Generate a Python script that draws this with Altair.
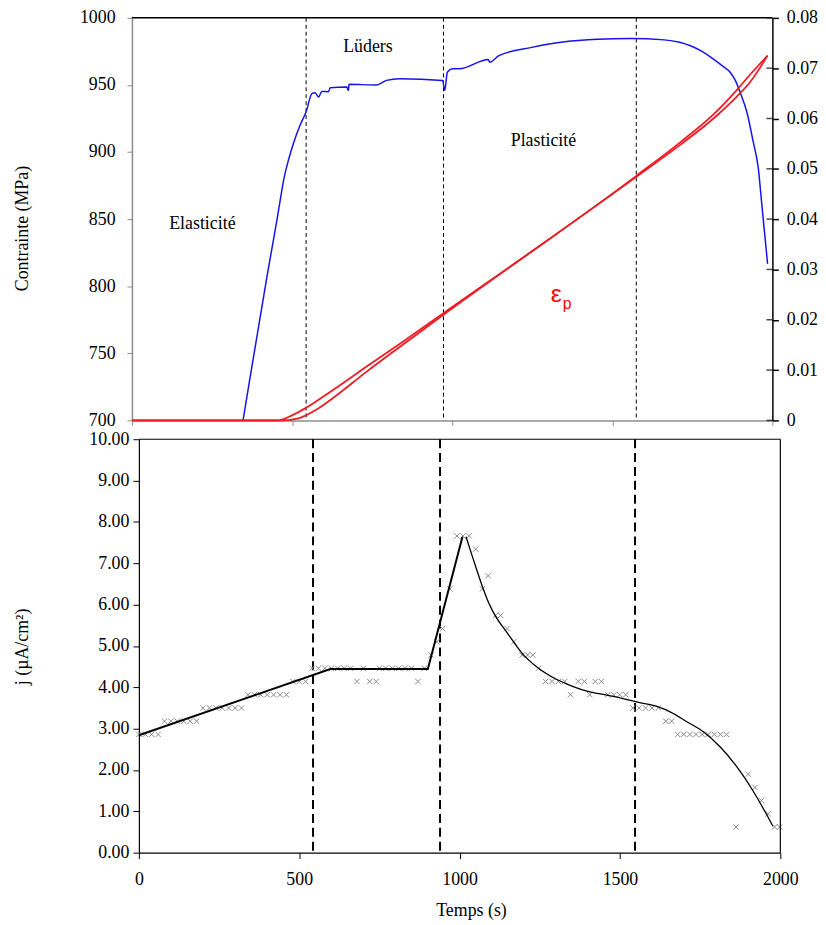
import altair as alt
import pandas as pd

# ---------------- top panel: stress (left axis) ----------------
blue_t = [347, 366, 392, 423, 454, 465, 475, 490, 506, 525, 544, 562, 572, 583, 593, 614, 619,
          671, 676, 678, 764, 795, 836, 970, 977, 985, 1001, 1022, 1113, 1117, 1146, 1249,
          1352, 1455, 1558, 1662, 1710, 1744, 1780, 1816, 1845, 1868, 1885, 1899, 1920, 1940,
          1956, 1966, 1976, 1985]
blue_s = [700, 727.8, 764.8, 809, 851, 867, 880.6, 895, 907.7, 920, 930, 943.5, 944.2, 941,
          945.2, 945, 948, 948.4, 945.9, 950.5, 950, 953.4, 954.6, 953.4, 946, 959.5, 962, 962,
          969, 967, 971.8, 978, 982.2, 984, 984.6, 983.6, 981.8, 979.2, 975, 969.3, 964,
          959.5, 953, 944.7, 930, 907.7, 888, 863.4, 838.8, 816.6]

# plastic strain (right axis), two close red curves
redA_t = [0, 454, 500, 544, 629, 733, 836, 973, 1575, 1713, 1816, 1888, 1930, 1985]
redA_e = [0, 0, 0.0010, 0.0025, 0.0061, 0.0107, 0.0152, 0.0213, 0.0486, 0.0553, 0.0608,
          0.0656, 0.0687, 0.0725]
redB_t = [0, 470, 520, 578, 629, 733, 836, 973, 1575, 1713, 1816, 1888, 1930, 1985]
redB_e = [0, 0, 0.0004, 0.0022, 0.0045, 0.0097, 0.0146, 0.0210, 0.0484, 0.0548, 0.0600,
          0.0643, 0.0672, 0.0725]

top_phase_t = [544, 973, 1575]
stress_ticks = [700, 750, 800, 850, 900, 950, 1000]
strain_ticks = [0, 0.01, 0.02, 0.03, 0.04, 0.05, 0.06, 0.07, 0.08]
time_ticks = [0, 500, 1000, 1500, 2000]

phase_labels = ["Elasticité", "Lüders", "Plasticité"]
phase_label_t = [220, 737, 1285]
phase_label_s = [846, 978, 908]

# ---------------- bottom panel: current density ----------------
pts_t = [0, 20, 40, 60,
         80, 100, 120, 140, 160, 180,
         200, 220, 240, 260, 280, 300, 320,
         340, 360, 380, 400, 420, 440, 460,
         480, 500, 520,
         540, 560, 580, 600, 620, 640, 660,
         680, 700, 720, 740, 750, 770, 790, 810, 830, 850, 870, 890,
         911, 929, 947, 970, 992, 1011, 1030, 1050, 1071, 1089, 1112, 1128, 1148, 1169,
         1195, 1212, 1228, 1246, 1268, 1288, 1308, 1328, 1346, 1370, 1389, 1406, 1423, 1442,
         1462, 1481, 1499, 1518, 1540, 1560, 1580, 1600, 1620, 1643, 1661,
         1680, 1699, 1718, 1737, 1756, 1775, 1794, 1813, 1832,
         1862, 1900, 1921, 1941, 1962, 1982, 1998]
pts_j = [2.86, 2.86, 2.86, 2.86,
         3.18, 3.18, 3.18, 3.18, 3.18, 3.18,
         3.50, 3.50, 3.50, 3.50, 3.50, 3.50, 3.50,
         3.82, 3.82, 3.82, 3.82, 3.82, 3.82, 3.82,
         4.14, 4.14, 4.14,
         4.46, 4.46, 4.46, 4.46, 4.46, 4.46, 4.46,
         4.14, 4.46, 4.14, 4.14, 4.46, 4.46, 4.46, 4.46, 4.46, 4.46, 4.14, 4.46,
         4.78, 5.10, 5.42, 6.38, 7.66, 7.66, 7.66, 7.34, 6.38, 6.70, 5.74, 5.74, 5.42, 5.10,
         4.78, 4.78, 4.78, 4.46, 4.14, 4.14, 4.14, 4.14, 3.82, 4.14, 4.14, 3.82, 4.14, 4.14,
         3.82, 3.82, 3.82, 3.82, 3.50, 3.50, 3.50, 3.50, 3.50, 3.18, 3.18,
         2.86, 2.86, 2.86, 2.86, 2.86, 2.86, 2.86, 2.86, 2.86,
         0.62, 1.90, 1.58, 1.26, 0.94, 0.62, 0.62]

fit1_t = [0, 597, 901, 1009]
fit1_j = [2.84, 4.44, 4.44, 7.64]
fit2_t = [1020, 1040, 1071, 1092, 1112, 1150, 1195, 1246, 1300, 1350, 1400, 1452, 1503,
          1555, 1617, 1658, 1710, 1761, 1812, 1864, 1916, 1977]
fit2_j = [7.64, 7.16, 6.44, 6.02, 5.72, 5.30, 4.82, 4.46, 4.20, 4.03, 3.90, 3.82, 3.74,
          3.64, 3.53, 3.40, 3.16, 2.92, 2.56, 2.08, 1.48, 0.64]

bottom_phase_t = [543, 939, 1547]
j_ticks = [0, 1, 2, 3, 4, 5, 6, 7, 8, 9, 10]

SERIF = "Times New Roman, Liberation Serif, DejaVu Serif, serif"
SANS = "Arial, Liberation Sans, DejaVu Sans, sans-serif"
GRAY = "#8c8c8c"

# ---------------- build top chart ----------------
blue_df = pd.DataFrame({"t": blue_t, "s": blue_s})
red_df = pd.concat([
    pd.DataFrame({"t": redA_t, "e": redA_e, "c": "A"}),
    pd.DataFrame({"t": redB_t, "e": redB_e, "c": "B"}),
])
top_rules_df = pd.DataFrame({"t": top_phase_t})
labels_df = pd.DataFrame({"t": phase_label_t, "s": phase_label_s, "label": phase_labels})
eps_df = pd.DataFrame({"t": [1325], "s": [794], "label": ["ε"]})
sub_df = pd.DataFrame({"t": [1359], "s": [787], "label": ["p"]})
border_df = pd.DataFrame({"s": [1000]})
rticks_df = pd.DataFrame({"t": [2000] * len(strain_ticks), "e": strain_ticks})

x_top = alt.X("t:Q", scale=alt.Scale(domain=[0, 2000], nice=False, zero=False),
              axis=alt.Axis(values=time_ticks, labels=False, title=None, domainColor=GRAY,
                            tickColor=GRAY, tickSize=5, domainWidth=1.5, tickWidth=1))
y_left = alt.Y("s:Q", scale=alt.Scale(domain=[700, 1000], nice=False, zero=False),
               axis=alt.Axis(values=stress_ticks, format="d", title="Contrainte (MPa)",
                             domainColor=GRAY, tickColor=GRAY, tickSize=5, domainWidth=1.5,
                             labelPadding=12, titleX=-110, titleY=212, titleAngle=-90,
                             titleAlign="center", titleBaseline="middle"))
y_right = alt.Y("e:Q", scale=alt.Scale(domain=[0, 0.08], nice=False, zero=False),
                axis=alt.Axis(orient="right", values=strain_ticks, title=None,
                              labelExpr="datum.value == 0 ? '0' : format(datum.value, '.2f')",
                              domainColor="black", tickColor="black", tickSize=6,
                              domainWidth=1.5, tickWidth=1.5, labelPadding=8))

blue = alt.Chart(blue_df).mark_line(color="#1414e6", strokeWidth=1.5,
                                    interpolate="monotone").encode(x=x_top, y=y_left)
top_rules = alt.Chart(top_rules_df).mark_rule(color="black", strokeWidth=1,
                                              strokeDash=[4, 3]).encode(x=x_top)
top_border = alt.Chart(border_df).mark_rule(color="black", strokeWidth=1.5).encode(y=y_left)
texts = alt.Chart(labels_df).mark_text(font=SERIF, fontSize=18, color="black").encode(
    x=x_top, y=y_left, text="label:N")
eps = alt.Chart(eps_df).mark_text(font=SANS, fontSize=25, color="#ff0000").encode(
    x=x_top, y=y_left, text="label:N")
sub = alt.Chart(sub_df).mark_text(font=SANS, fontSize=16, color="#ff0000").encode(
    x=x_top, y=y_left, text="label:N")

red = alt.Chart(red_df).mark_line(color="#ee1c24", strokeWidth=1.8,
                                  interpolate="monotone").encode(x=x_top, y=y_right, detail="c:N")
rticks = alt.Chart(rticks_df).mark_tick(orient="horizontal", size=6, thickness=1.5,
                                        color="black", xOffset=-3).encode(x=x_top, y=y_right)

top = alt.layer(
    alt.layer(top_border, top_rules, blue, texts, eps, sub),
    alt.layer(red, rticks),
).resolve_scale(y="independent").properties(width=646, height=406)

# ---------------- build bottom chart ----------------
pts_df = pd.DataFrame({"t": pts_t, "j": pts_j})
fit1_df = pd.DataFrame({"t": fit1_t, "j": fit1_j})
fit2_df = pd.DataFrame({"t": fit2_t, "j": fit2_j})
bot_rules_df = pd.DataFrame({"t": bottom_phase_t})
ftop_df = pd.DataFrame({"t": [0], "t2": [2000], "j": [10]})
fright_df = pd.DataFrame({"t": [2000], "j": [0], "j2": [10]})

x_bot = alt.X("t:Q", scale=alt.Scale(domain=[0, 2000], range=[7, 654], nice=False, zero=False),
              axis=alt.Axis(values=time_ticks, format="d", title="Temps (s)", labelFlush=False,
                            domainColor="black", tickColor="black", tickSize=6,
                            domainWidth=1.2, labelPadding=12, titleX=342, titleY=58,
                            titleBaseline="middle"))
y_bot = alt.Y("j:Q", scale=alt.Scale(domain=[0, 10], nice=False, zero=False),
              axis=alt.Axis(values=j_ticks, format=".2f", offset=-7, title="j (µA/cm²)",
                            domainColor="black", tickColor="black", tickSize=6,
                            domainWidth=1.2, labelPadding=4, titleX=-117, titleY=209,
                            titleAngle=-90, titleAlign="center", titleBaseline="middle"))

X_SHAPE = "M-1,-1L1,1M-1,1L1,-1"
points = alt.Chart(pts_df).mark_point(shape=X_SHAPE, filled=False, color="#8a8a8a",
                                      strokeWidth=1, size=30, opacity=1).encode(x=x_bot, y=y_bot)
fit1 = alt.Chart(fit1_df).mark_line(color="black", strokeWidth=2).encode(x=x_bot, y=y_bot)
fit2 = alt.Chart(fit2_df).mark_line(color="black", strokeWidth=1.3,
                                    interpolate="monotone").encode(x=x_bot, y=y_bot)
bot_rules = alt.Chart(bot_rules_df).mark_rule(color="black", strokeWidth=2,
                                              strokeDash=[9, 5]).encode(x=x_bot)
ftop = alt.Chart(ftop_df).mark_rule(color="black", strokeWidth=1.2).encode(
    x=x_bot, x2="t2:Q", y=y_bot)
fright = alt.Chart(fright_df).mark_rule(color="black", strokeWidth=1.2).encode(
    x=x_bot, y=y_bot, y2="j2:Q")

bottom = alt.layer(bot_rules, points, fit1, fit2, ftop, fright).properties(width=654, height=417)

chart = alt.vconcat(top, bottom, spacing=1).properties(
    padding={"left": 6, "top": -3, "right": 0, "bottom": 0}
).configure_view(stroke=None).configure_axis(
    grid=False, labelFont=SERIF, titleFont=SERIF, labelFontSize=18, titleFontSize=18,
    labelColor="black", titleColor="black", titleFontWeight="normal"
)

chart.save("out.html", embed_options={"renderer": "svg", "actions": False})
